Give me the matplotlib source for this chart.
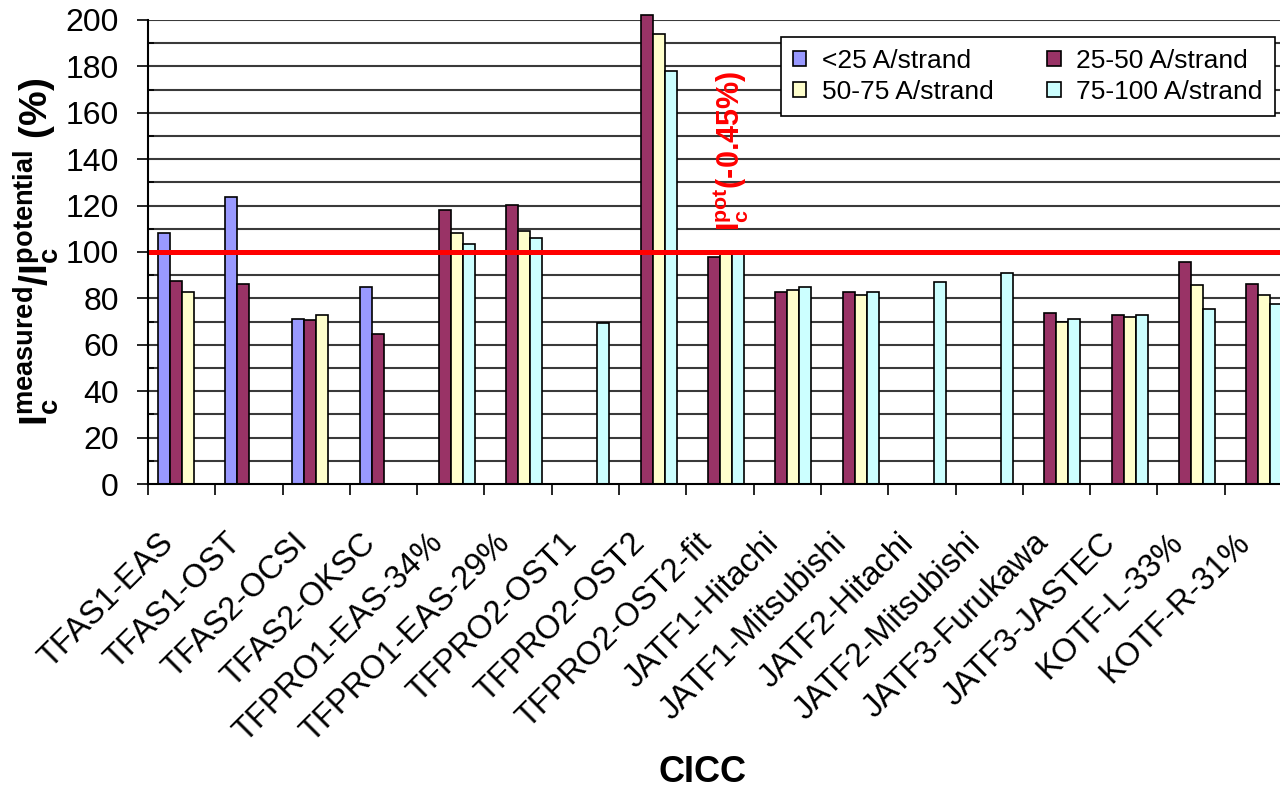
import numpy as np
import matplotlib
matplotlib.use("Agg")
import matplotlib.pyplot as plt
import matplotlib.transforms as mtransforms
from matplotlib.ticker import MultipleLocator

plt.rcParams['font.family'] = ['Liberation Sans', 'DejaVu Sans']
plt.rcParams['mathtext.fontset'] = 'custom'
plt.rcParams['mathtext.rm'] = 'Liberation Sans'
plt.rcParams['mathtext.it'] = 'Liberation Sans'
plt.rcParams['mathtext.bf'] = 'Liberation Sans:bold'

# conductors (CICC samples)
cables = ['TFAS1-EAS', 'TFAS1-OST', 'TFAS2-OCSI', 'TFAS2-OKSC', 'TFPRO1-EAS-34%',
          'TFPRO1-EAS-29%', 'TFPRO2-OST1', 'TFPRO2-OST2', 'TFPRO2-OST2-fit',
          'JATF1-Hitachi', 'JATF1-Mitsubishi', 'JATF2-Hitachi', 'JATF2-Mitsubishi',
          'JATF3-Furukawa', 'JATF3-JASTEC', 'KOTF-L-33%', 'KOTF-R-31%']

nan = np.nan
# Ic measured / Ic potential (%) per current range
lt25 = [108.3, 123.6, 71.3, 85.0, nan, nan, nan, nan, nan,
        nan, nan, nan, nan, nan, nan, nan, nan]
r25_50 = [87.6, 86.3, 70.5, 64.5, 118.1, 120.1, nan, 202.0, 98.0,
          82.6, 82.6, nan, nan, 73.6, 73.0, 95.5, 86.3]
r50_75 = [82.6, nan, 73.0, nan, 108.3, 108.9, nan, 193.8, 99.5,
          83.5, 81.5, nan, nan, 69.8, 71.8, 85.8, 81.5]
r75_100 = [nan, nan, nan, nan, 103.4, 105.9, 69.5, 178.2, 99.5,
           85.0, 82.6, 86.9, 91.1, 71.3, 73.0, 75.4, 77.7]

series = [('<25 A/strand', lt25, '#9999FF'),
          ('25-50 A/strand', r25_50, '#993366'),
          ('50-75 A/strand', r50_75, '#FFFFCC'),
          ('75-100 A/strand', r75_100, '#CCFFFF')]

fig = plt.figure(figsize=(12.8, 7.9), dpi=100)
# plot area runs past the right edge of the image
ax = fig.add_axes([148 / 1280, 306 / 790, 1144 / 1280, 464 / 790])

n = len(cables)
centers = np.arange(n) + 0.5
w = 0.178
handles = []
for k, (name, vals, col) in enumerate(series):
    vals = np.array(vals, dtype=float)
    ok = ~np.isnan(vals)
    b = ax.bar(centers[ok] + (k - 1.5) * w, vals[ok], width=w, color=col,
               edgecolor='black', linewidth=1.2, label=name, zorder=3, clip_on=False)
    handles.append(b)

ax.axhline(100, color='red', linewidth=3.6, zorder=4)

ax.set_xlim(0, n)
ax.set_ylim(0, 200)

# gridlines every 10
for yv in np.arange(10, 201, 10):
    ax.axhline(yv, color='#3a3a3a', linewidth=1.5, zorder=1)

ax.yaxis.set_major_locator(MultipleLocator(20))
ax.yaxis.set_minor_locator(MultipleLocator(10))
ax.tick_params(axis='y', which='major', direction='out', length=8, width=1.2,
               labelsize=23, pad=13)
ax.tick_params(axis='y', which='minor', direction='in', length=4, width=1.2)

ax.set_xticks(np.arange(n + 1), minor=True)
ax.set_xticks(centers)
ax.set_xticklabels(cables, rotation=45, ha='right', va='center',
                   rotation_mode='anchor', fontsize=23.5)
ax.tick_params(axis='x', which='major', length=0, pad=39)
ax.tick_params(axis='x', which='minor', direction='out', length=8, width=1.2)
shift = mtransforms.ScaledTranslation(-13 / 100, 0, fig.dpi_scale_trans)
for lab in ax.get_xticklabels():
    lab.set_transform(lab.get_transform() + shift)

for s in ['top', 'right']:
    ax.spines[s].set_visible(False)
for s in ['left', 'bottom']:
    ax.spines[s].set_linewidth(1.5)
    ax.spines[s].set_zorder(5)

fig.text(36 / 1280, 1 - 252 / 790,
         r'$\mathbf{I_c^{measured}/I_c^{potential}}$ (%)',
         rotation=90, ha='center', va='center', fontsize=28, fontweight='bold')

fig.text(703 / 1280, 1 - 773 / 790, 'CICC', ha='center', va='center',
         fontsize=26, fontweight='bold')

ax.text(8.67, 143.5, r'$\mathbf{I_c^{pot}}$(-0.45%)', rotation=90,
        ha='center', va='center', color='red', fontsize=22, fontweight='bold',
        zorder=6)

# legend rows: <25 | 25-50, then 50-75 | 75-100
order = [0, 2, 1, 3]
leg = ax.legend([handles[i] for i in order], [series[i][0] for i in order],
                loc='upper left', bbox_to_anchor=(0.553, 0.963), ncol=2,
                fontsize=19, frameon=True, fancybox=False, framealpha=1,
                edgecolor='black', borderpad=0.45, handlelength=0.5,
                handleheight=0.5, handletextpad=0.6, columnspacing=2.05,
                labelspacing=0.25, borderaxespad=0)
leg.get_frame().set_linewidth(1.2)
leg.set_zorder(7)

fig.savefig('out.png', dpi=100)
